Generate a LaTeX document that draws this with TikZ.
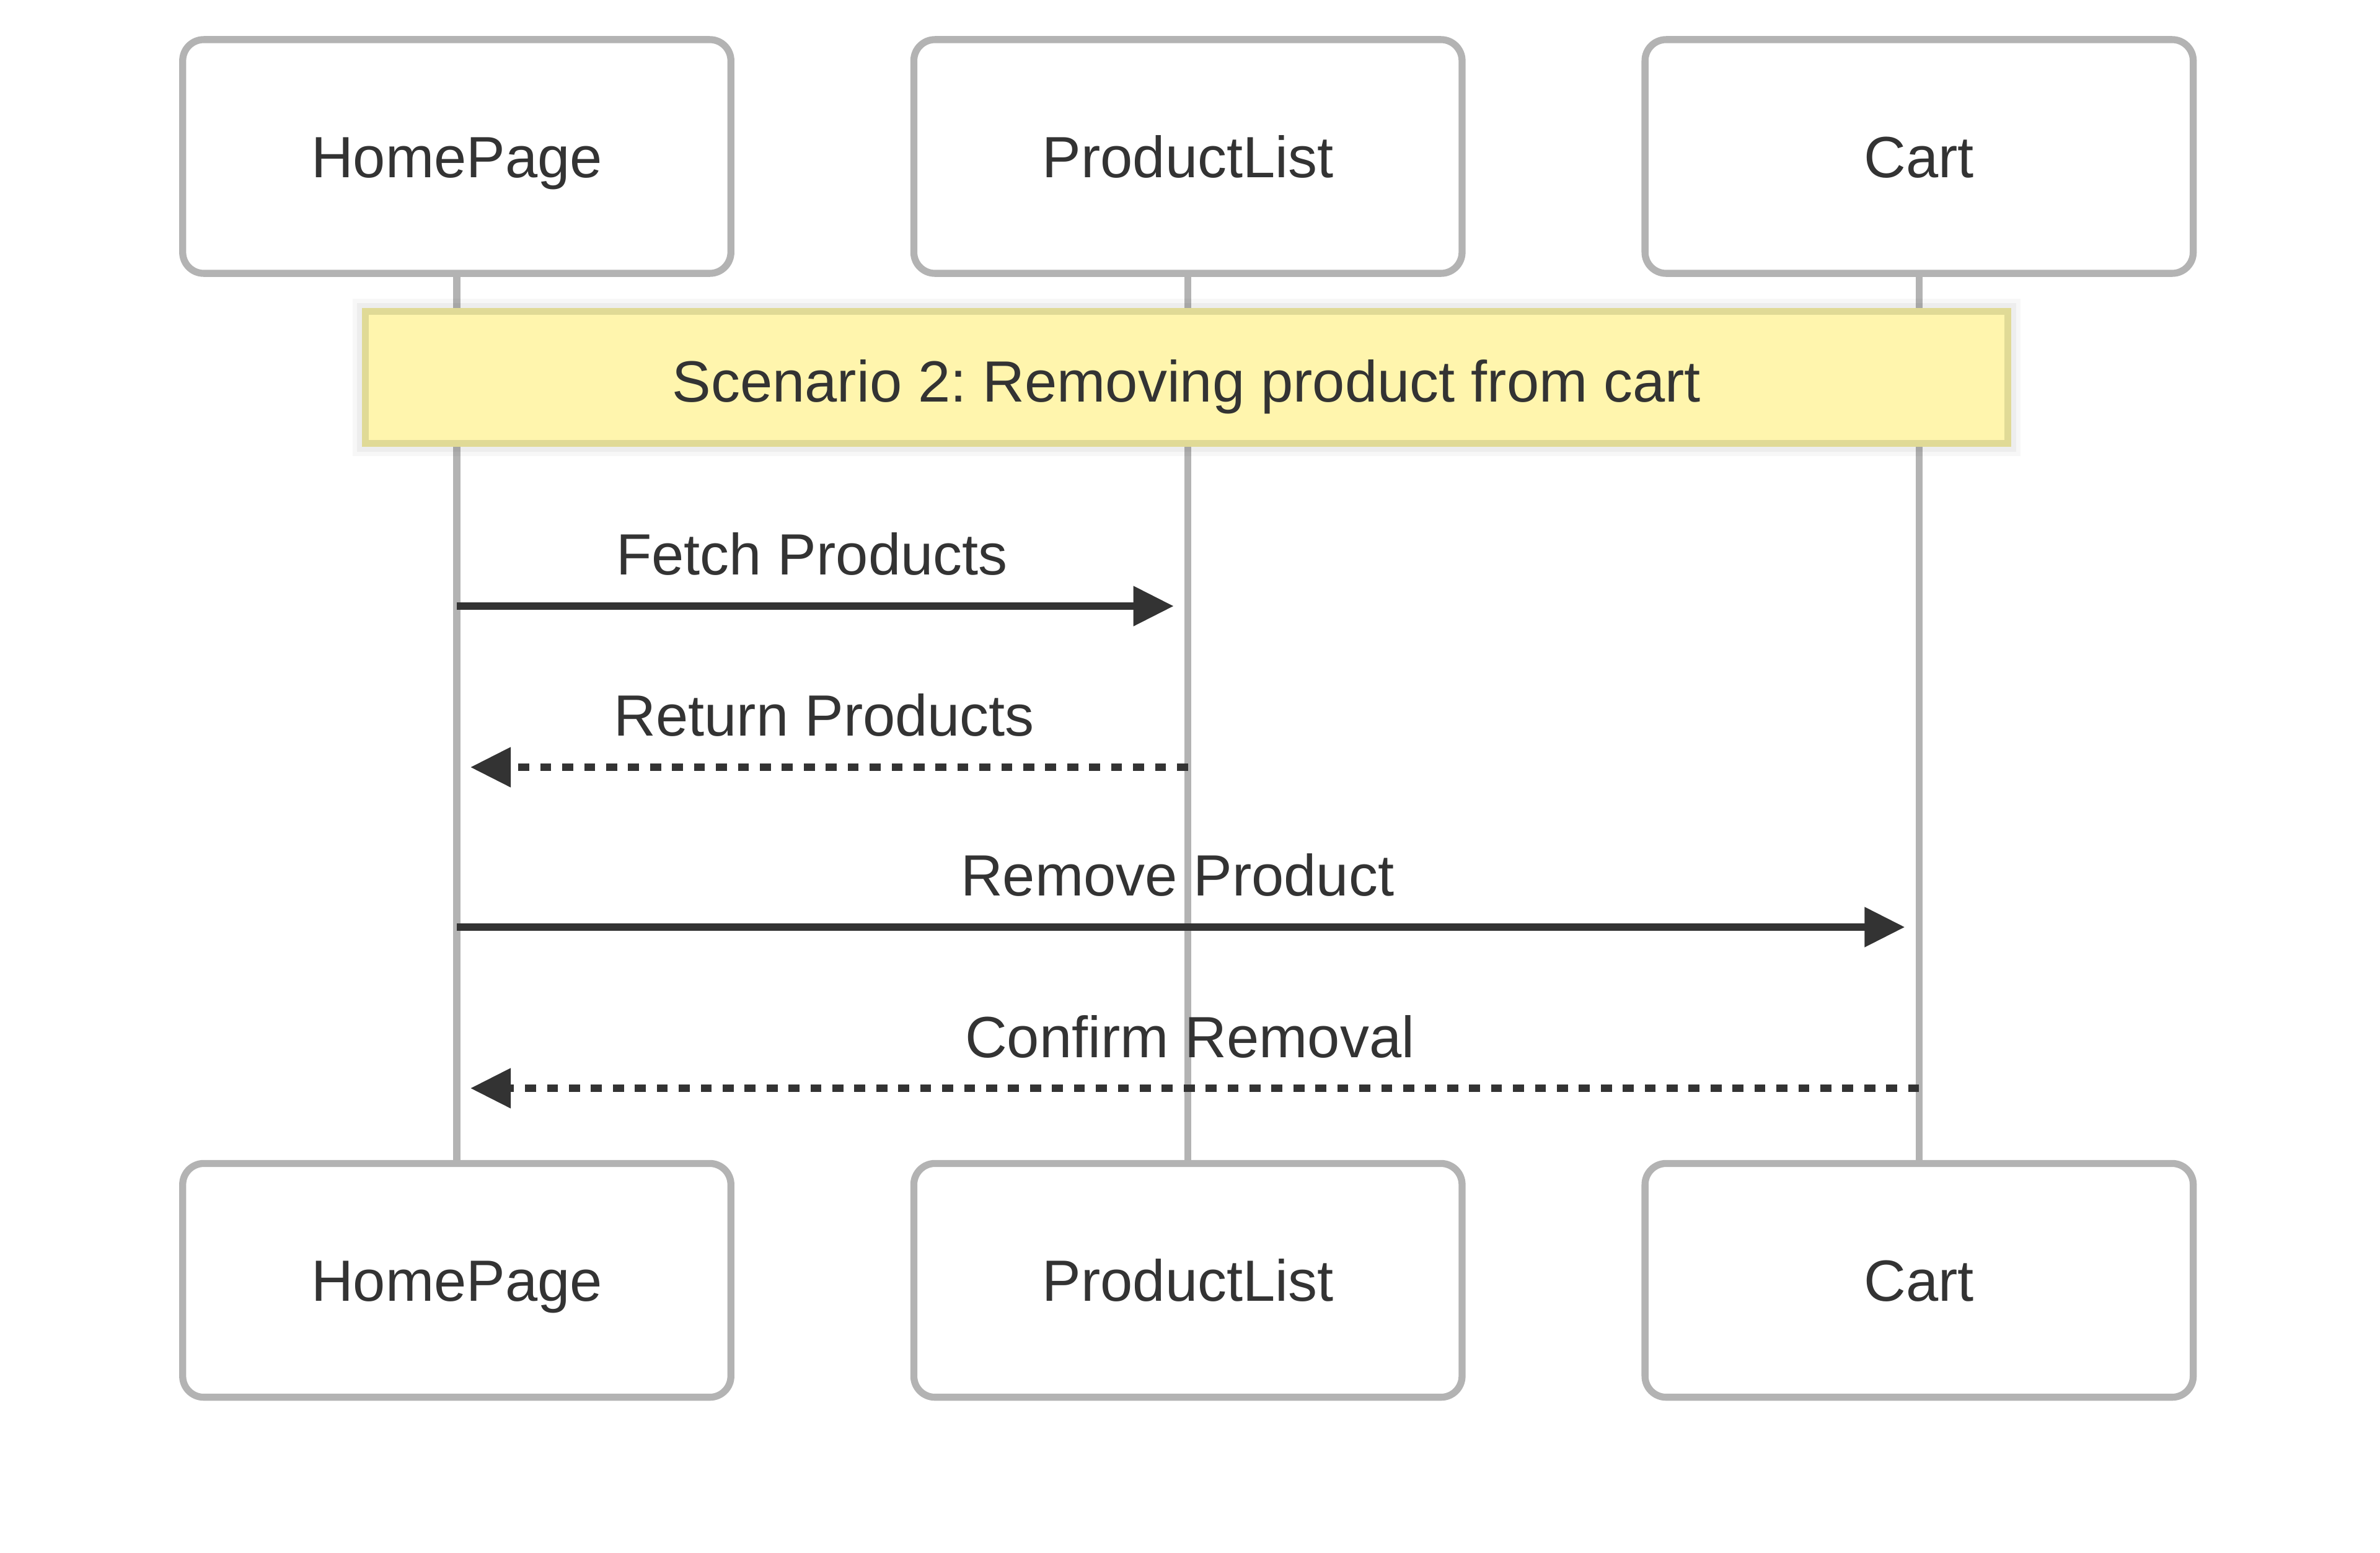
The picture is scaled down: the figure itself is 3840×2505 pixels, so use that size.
\documentclass[tikz,border=0pt]{standalone}
\usepackage{fontspec}
\setmainfont{Liberation Sans}
\usepackage{tikz}
\usetikzlibrary{positioning,arrows.meta}
\frenchspacing

\definecolor{linegray}{HTML}{B3B3B3}
\definecolor{textgray}{HTML}{333333}
\definecolor{notefill}{HTML}{FFF5AD}
\definecolor{noteline}{RGB}{224,218,150}

\begin{document}
\begin{tikzpicture}[
x=0.01cm, y=-0.01cm,
every node/.style={font=\fontsize{26.7}{32}\selectfont, text=textgray},
actorbox/.style={rectangle, rounded corners=0.34cm, draw=linegray, fill=white, line width=0.113cm, minimum width=8.84cm, minimum height=3.77cm, outer sep=0pt, text height=0.67cm, text depth=0cm},
notebox/.style={rectangle, draw=noteline, fill=notefill, line width=0.113cm, minimum width=26.49cm, minimum height=2.13cm, outer sep=0pt, text height=0.79cm, text depth=0cm,
    preaction={draw=black, opacity=0.03, line width=0.40cm},
    preaction={draw=black, opacity=0.04, line width=0.26cm}},
lifeline/.style={draw=linegray, line width=0.113cm},
call/.style={draw=textgray, line width=0.115cm, -{Triangle[length=0.65cm, width=0.62cm]}, shorten >=0.23cm},
reply/.style={call, dash pattern=on 0.177cm off 0.177cm, shorten >=0.22cm},
calllabel/.style={anchor=base, yshift=0.5cm, xshift=-0.17cm, inner sep=0pt},
replylabel/.style={calllabel, xshift=0.2cm}
]
    \useasboundingbox (0,0) rectangle (3840,2505);

    %Participants
    \node[actorbox] (hp) at (737,252.5) {HomePage};
    \node[actorbox, right=2.95cm of hp] (pl) {ProductList};
    \node[actorbox, right=2.95cm of pl] (ct) {Cart};
    \node[actorbox] (hpb) at (737,2066) {HomePage};
    \node[actorbox, right=2.95cm of hpb] (plb) {ProductList};
    \node[actorbox, right=2.95cm of plb] (ctb) {Cart};

    %Lifelines
    \draw[lifeline] (hp) -- (hpb);
    \draw[lifeline] (pl) -- (plb);
    \draw[lifeline] (ct) -- (ctb);

    %Note
    \node[notebox] (note) at (1914.5,609) {Scenario 2: Removing product from cart};

    %Messages
    \coordinate (f1) at (hp |- 0,978);
    \coordinate (f2) at (pl |- 0,978);
    \coordinate (r1) at (pl |- 0,1238);
    \coordinate (r2) at (hp |- 0,1238);
    \coordinate (d1) at (hp |- 0,1496);
    \coordinate (d2) at (ct |- 0,1496);
    \coordinate (c1) at (ct |- 0,1756);
    \coordinate (c2) at (hp |- 0,1756);

    \draw[call] (f1) -- node[calllabel] (fetch) {Fetch Products} (f2);
    \draw[reply] (r1) -- node[replylabel] (return) {Return Products} (r2);
    \draw[call] (d1) -- node[calllabel] (remove) {Remove Product} (d2);
    \draw[reply] (c1) -- node[replylabel] (confirm) {Confirm Removal} (c2);
\end{tikzpicture}
\end{document}
